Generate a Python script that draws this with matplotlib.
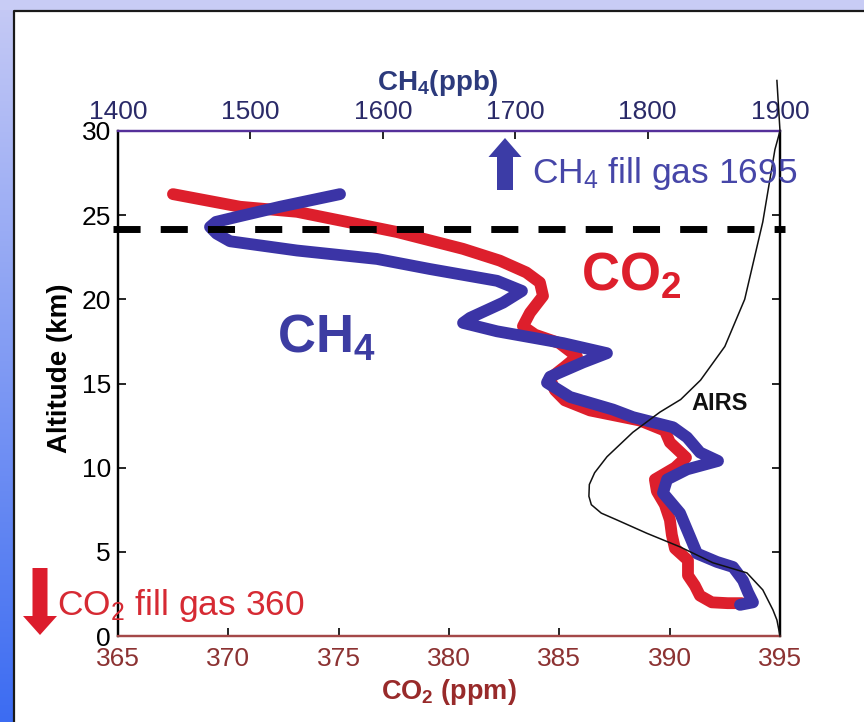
import numpy as np
import matplotlib.pyplot as plt
from matplotlib.patches import Rectangle, FancyArrow
from matplotlib.colors import LinearSegmentedColormap

plt.rcParams['font.family'] = ['Liberation Sans', 'DejaVu Sans']
plt.rcParams['mathtext.default'] = 'regular'

# ---- data ----
# CO2 profile (ppm) vs altitude (km)
co2 = [367.49, 370.53, 373.11, 375.38, 377.64, 380.63, 382.3, 383.5, 384.12,
       384.26, 383.67, 383.35, 383.9, 385.0, 385.8, 385.25, 384.57, 384.8,
       385.25, 386.39, 388.65, 389.78, 390.01, 390.74, 390.24, 389.33, 389.42,
       389.78, 390.01, 390.1, 390.24, 390.83, 390.83, 391.14, 391.37, 391.91,
       392.63, 393.27]
alt_co2 = [26.25, 25.5, 25.2, 24.6, 24.0, 23.0, 22.3, 21.6, 21.0,
           20.2, 19.2, 18.4, 17.9, 17.4, 16.6, 16.0, 15.3, 14.6,
           14.0, 13.4, 12.8, 12.2, 11.5, 10.6, 10.0, 9.3, 8.6,
           7.8, 6.9, 6.0, 5.2, 4.5, 3.6, 3.0, 2.4, 2.0,
           1.95, 1.95]

# CH4 profile (ppb) vs altitude (km)
ch4 = [1567.7, 1522.4, 1489.9, 1474.0, 1469.5, 1474.5, 1484.6, 1535.2, 1595.6,
       1635.6, 1686.3, 1705.1, 1690.8, 1665.9, 1660.6, 1686.3, 1736.1, 1769.3,
       1751.2, 1726.3, 1724.0, 1741.4, 1773.9, 1789.0, 1819.2, 1829.8, 1839.6,
       1853.2, 1829.8, 1814.7, 1811.6, 1824.5, 1832.0, 1837.3, 1852.4, 1864.5,
       1872.1, 1875.8, 1879.6, 1869.8]
alt_ch4 = [26.25, 25.5, 24.9, 24.6, 24.3, 23.9, 23.45, 22.9, 22.4,
           21.8, 21.1, 20.5, 19.8, 18.9, 18.6, 18.1, 17.4, 16.8,
           16.25, 15.4, 15.05, 14.2, 13.45, 13.0, 12.4, 11.8, 10.9,
           10.4, 9.9, 9.3, 8.5, 7.3, 5.9, 4.9, 4.4, 4.1,
           3.3, 2.6, 2.0, 1.85]

# AIRS weighting function, drawn in CO2 axis units
airs_x = [394.86, 395.0, 394.77, 394.22, 393.4, 392.5, 391.4, 390.5, 389.56,
          388.33, 387.16, 386.6, 386.36, 386.34, 386.45, 386.9, 387.6, 388.97,
          390.46, 391.96, 393.5, 394.22, 394.68, 394.86, 394.95, 395.0]
airs_alt = [33.0, 30.0, 28.9, 24.6, 20.0, 17.2, 15.2, 14.05, 13.3,
            12.1, 10.65, 9.7, 9.0, 8.3, 7.8, 7.3, 6.9, 6.1,
            5.3, 4.35, 3.75, 2.74, 1.55, 0.95, 0.35, 0.0]

tropopause = 24.17
co2_ticks = [365, 370, 375, 380, 385, 390, 395]
ch4_ticks = [1400, 1500, 1600, 1700, 1800, 1900]
alt_ticks = [0, 5, 10, 15, 20, 25, 30]

red = '#dd1f2c'
blue = '#3b34a6'

fig = plt.figure(figsize=(8.64, 7.22), dpi=100)
fig.patch.set_facecolor('white')

# slide background, in pixel coords
bg = fig.add_axes([0, 0, 1, 1], zorder=-10)
cmap = LinearSegmentedColormap.from_list('slide', ['#c6caf5', '#3c6cf2'])
bg.imshow(np.linspace(0, 1, 256).reshape(-1, 1), extent=(0, 14, 722, 0),
          cmap=cmap, aspect='auto')
bg.add_patch(Rectangle((0, 0), 864, 10, color='#c8ccf5', lw=0))
bg.plot([14, 14, 864], [722, 10.5, 10.5], color='#1a1a1a', lw=1.6)
bg.set_xlim(0, 864)
bg.set_ylim(722, 0)
bg.axis('off')

rect = [118 / 864, 86 / 722, 662 / 864, 505 / 722]

# CO2 axis (bottom)
ax = fig.add_axes(rect)
ax.plot(co2, alt_co2, color=red, lw=8.5, solid_capstyle='round',
        solid_joinstyle='round')
ax.set_xlim(365, 395)
ax.set_ylim(0, 30)
ax.set_xticks(co2_ticks)
ax.set_yticks(alt_ticks)
ax.tick_params(direction='in', length=6, width=1.2, labelsize=19,
               top=True, right=True)
ax.tick_params(axis='x', labelcolor='#8c3232', pad=8)
ax.tick_params(axis='y', labelcolor='black', pad=5)
ax.set_xlabel('CO$_2$ (ppm)', fontsize=19.5, fontweight='bold',
              color='#982a2a', labelpad=4)
ax.set_ylabel('Altitude (km)', fontsize=20, fontweight='bold', labelpad=6)
ax.yaxis.label.set_y(0.53)

# CH4 axis (top)
ax2 = ax.twiny()
ax2.plot(ch4, alt_ch4, color=blue, lw=8.5, solid_capstyle='round',
         solid_joinstyle='round')
ax2.set_xlim(1400, 1900)
ax2.set_xticks(ch4_ticks)
ax2.tick_params(direction='in', length=6, width=1.2, labelsize=19,
                labelcolor='#2a2a68', pad=5)
ax2.set_xlabel('CH$_4$(ppb)', fontsize=20, fontweight='bold',
               color='#2c3a7c', labelpad=7)
ax2.xaxis.label.set_x(0.483)

for a in (ax, ax2):
    a.spines['left'].set_color('black')
    a.spines['right'].set_color('black')
    a.spines['top'].set_color('#55309a')
    a.spines['bottom'].set_color('#a44848')
    for s in a.spines.values():
        s.set_linewidth(1.6)

# overlay for the AIRS curve, tropopause line and annotations
ax3 = fig.add_axes(rect)
ax3.set_xlim(365, 395)
ax3.set_ylim(0, 30)
ax3.axis('off')
ax3.plot(airs_x, airs_alt, color='#111111', lw=1.1, clip_on=False)
ax3.plot([364.77, 395.22], [tropopause, tropopause], color='black', lw=5,
         dashes=(3.9, 2.9), clip_on=False)

ax3.text(372.2, 16.85, 'CH$_4$', fontsize=38, fontweight='bold',
         color='#3c3ca2', va='baseline')
ax3.text(385.98, 20.5, 'CO$_2$', fontsize=38, fontweight='bold',
         color=red, va='baseline')
ax3.text(391.0, 13.4, 'AIRS', fontsize=17, fontweight='bold',
         color='#111111', va='baseline')
ax3.text(383.76, 26.9, 'CH$_4$ fill gas 1695', fontsize=25.5,
         color='#4646a8', va='baseline')
ax3.text(362.24, 1.25, 'CO$_2$ fill gas 360', fontsize=25.5,
         color='#d62a33', va='baseline', clip_on=False)

# fill gas arrows, in pixel coords
over = fig.add_axes([0, 0, 1, 1], zorder=5)
over.set_xlim(0, 864)
over.set_ylim(722, 0)
over.axis('off')
over.add_patch(FancyArrow(505, 190, 0, -52, width=16, head_width=33,
                          head_length=19, length_includes_head=True,
                          color='#3c3ca6', lw=0))
over.add_patch(FancyArrow(40, 568, 0, 67, width=15, head_width=34,
                          head_length=19, length_includes_head=True,
                          color='#dc1c2c', lw=0))

fig.savefig('out.png', dpi=100)
